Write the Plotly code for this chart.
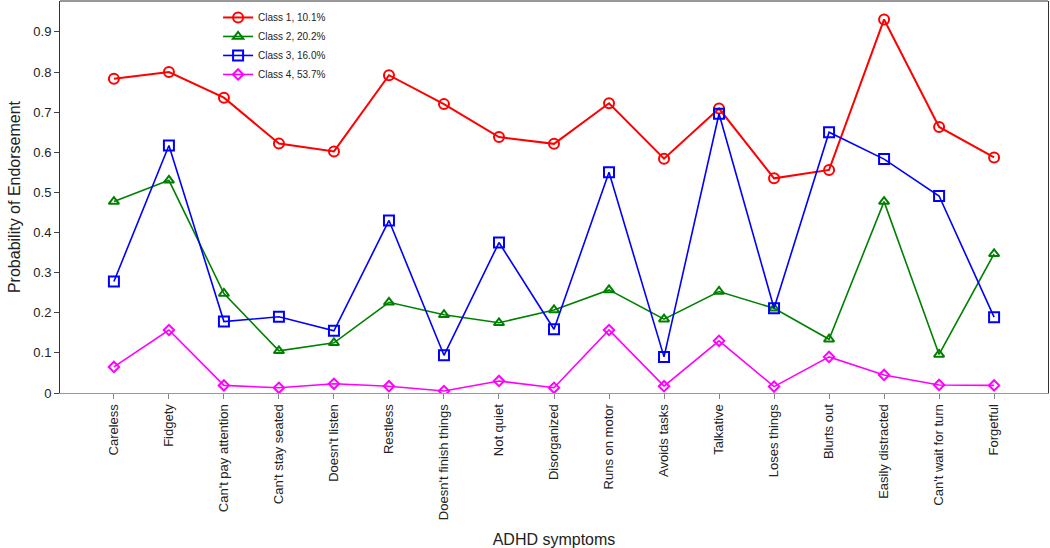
import plotly.graph_objects as go

symptoms = ["Careless", "Fidgety", "Can't pay attention", "Can't stay seated", "Doesn't listen",
            "Restless", "Doesn't finish things", "Not quiet", "Disorganized", "Runs on motor",
            "Avoids tasks", "Talkative", "Loses things", "Blurts out", "Easily distracted",
            "Can't wait for turn", "Forgetful"]

class1 = [0.783, 0.800, 0.736, 0.622, 0.602, 0.792, 0.720, 0.638, 0.621, 0.722,
          0.584, 0.709, 0.535, 0.556, 0.931, 0.663, 0.587]
class2 = [0.477, 0.530, 0.248, 0.105, 0.125, 0.226, 0.195, 0.175, 0.207, 0.257,
          0.184, 0.253, 0.211, 0.134, 0.477, 0.096, 0.347]
class3 = [0.278, 0.617, 0.178, 0.190, 0.155, 0.430, 0.094, 0.375, 0.159, 0.550,
          0.090, 0.696, 0.211, 0.650, 0.583, 0.491, 0.189]
class4 = [0.065, 0.157, 0.019, 0.013, 0.023, 0.017, 0.005, 0.030, 0.013, 0.157,
          0.017, 0.130, 0.016, 0.090, 0.045, 0.020, 0.019]

names = ["Class 1, 10.1%", "Class 2, 20.2%", "Class 3, 16.0%", "Class 4, 53.7%"]
colors = ["#ff0000", "#008000", "#0000ff", "#ff00ff"]
symbols = ["circle-open", "triangle-up-open", "square-open", "diamond-open"]
sizes = [10, 9, 10, 8]
widths = [2, 1.6, 1.6, 1.6]
series = [class1, class2, class3, class4]

xs = list(range(len(symptoms)))
fig = go.Figure()
for vals, nm, c, s, sz, w in zip(series, names, colors, symbols, sizes, widths):
    fig.add_trace(go.Scatter(x=xs, y=vals, name=nm, mode="lines+markers",
                             line=dict(color=c, width=w),
                             marker=dict(symbol=s, size=sz, color=c, line=dict(width=2, color=c))))

fig.update_layout(
    width=1050, height=548,
    margin=dict(l=60, r=2, t=1, b=155),
    plot_bgcolor="white", paper_bgcolor="white",
    font=dict(family="Liberation Sans, Arial, sans-serif", size=13, color="#222"),
    showlegend=True,
    legend=dict(x=0.16, y=0.995, xanchor="left", yanchor="top", bgcolor="rgba(0,0,0,0)",
                font=dict(size=10), tracegroupgap=0),
    xaxis=dict(range=[-0.98, 16.98], tickmode="array", tickvals=xs, ticktext=symptoms,
               tickangle=-90, ticks="outside", ticklen=5, tickcolor="#888",
               showline=True, linecolor="#999", linewidth=1, mirror=False,
               showgrid=False, zeroline=False, automargin=False,
               title=dict(text="ADHD symptoms", standoff=14)),
    yaxis=dict(range=[0, 0.977], tickmode="array", tickvals=[0, 0.1, 0.2, 0.3, 0.4, 0.5, 0.6, 0.7, 0.8, 0.9],
               ticktext=["0", "0.1", "0.2", "0.3", "0.4", "0.5", "0.6", "0.7", "0.8", "0.9"],
               ticks="outside", ticklen=5, tickcolor="#444",
               showline=True, linecolor="#333", linewidth=1, mirror=True,
               showgrid=False, zeroline=False, automargin=False,
               title=dict(text="Probability of Endorsement", standoff=8)),
)
fig.add_shape(type="line", xref="paper", yref="paper", x0=0, x1=1, y0=1, y1=1,
              line=dict(color="#333", width=1))

fig.write_html("out.html", config={"displayModeBar": False},
               post_script="document.body.style.margin='0';")
